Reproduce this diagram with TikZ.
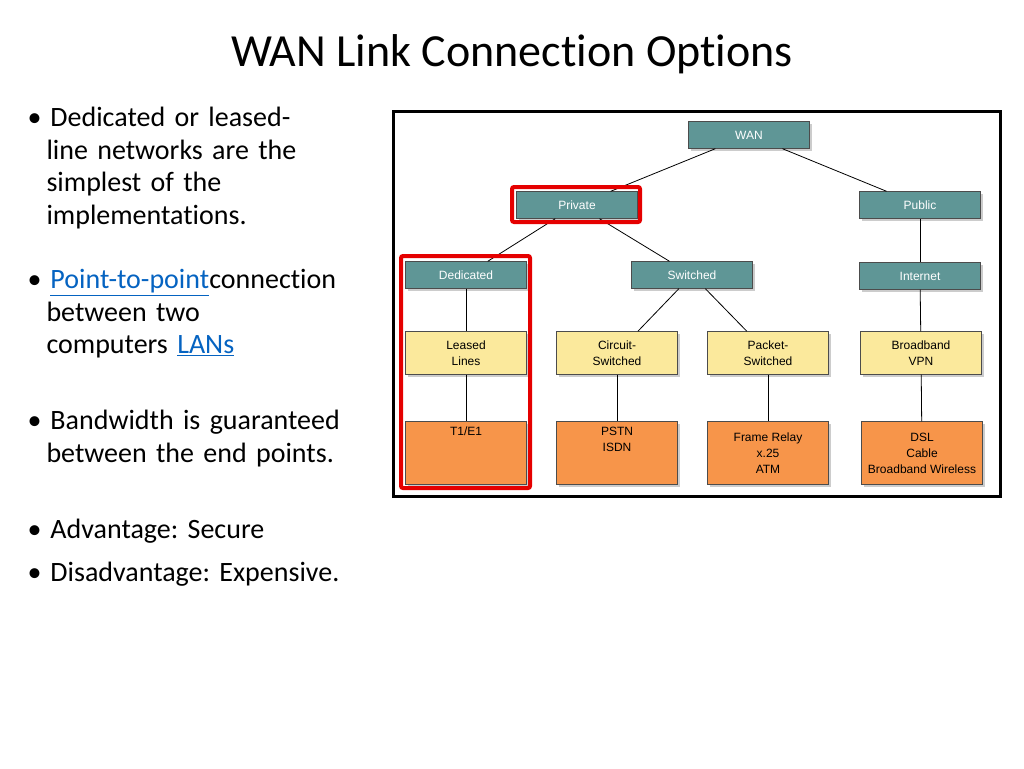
\documentclass[tikz,border=0pt]{standalone}
\usepackage{fontspec}
\setmainfont{Carlito}[Ligatures=NoCommon]
\newfontfamily\diag{Liberation Sans}
\usetikzlibrary{shadows}
\definecolor{teal1}{HTML}{5F9696}
\definecolor{yell1}{HTML}{FBE99C}
\definecolor{oran1}{HTML}{F7954A}
\definecolor{link1}{HTML}{0563C1}
\newcommand{\lnk}[1]{\textcolor{link1}{\underline{#1}}}
\begin{document}
\frenchspacing
\begin{tikzpicture}[x=1pt,y=-1pt,
    box/.style={draw=black!70,minimum width=121pt,inner sep=0pt,align=center,
      font=\diag\fontsize{12}{16}\selectfont,drop shadow={shadow xshift=2pt,shadow yshift=-2pt,opacity=.4}},
    top node/.style={box,fill=teal1,text=white,minimum height=27pt},
    mid node/.style={box,fill=yell1,minimum height=43pt},
    low node/.style={box,fill=oran1,minimum height=63pt},
    bullet/.style={anchor=north west,align=left,font=\fontsize{28}{32.5}\selectfont,text width=360pt}]
  \useasboundingbox (0,0) rectangle (1024,768);

  \node (title) at (512,54) {\fontsize{46}{52}\selectfont WAN Link Connection Options};

  \node[bullet] (b1) at (24,104) {\textbullet\hspace{9pt}Dedicated or leased-\\\hspace*{19pt}line networks are the\\\hspace*{19pt}simplest of the\\\hspace*{19pt}implementations.};
  \node[bullet] (b2) at (24,266) {\textbullet\hspace{9pt}\lnk{Point-to-point}connection\\\hspace*{19pt}between two\\\hspace*{19pt}computers \lnk{LANs}};
  \node[bullet] (b3) at (24,407) {\textbullet\hspace{9pt}Bandwidth is guaranteed\\\hspace*{19pt}between the end points.};
  \node[bullet] (b4) at (24,516) {\textbullet\hspace{9pt}Advantage: Secure};
  \node[bullet] (b5) at (24,559) {\textbullet\hspace{9pt}Disadvantage: Expensive.};

  \draw[line width=3pt] (393,111) rectangle (1000,496);

  \node[top node] (wan) at (749,135) {WAN};
  \node[top node] (private) at (577,205) {Private};
  \node[top node] (public) at (920,205) {Public};
  \node[top node] (dedicated) at (466,275) {Dedicated};
  \node[top node] (switched) at (692,275) {Switched};
  \node[top node] (internet) at (920,276) {Internet};
  \node[mid node] (leased) at (466,353) {Leased\\Lines};
  \node[mid node] (circuit) at (617,353) {Circuit-\\Switched};
  \node[mid node] (packet) at (768,353) {Packet-\\Switched};
  \node[mid node] (vpn) at (921,353) {Broadband\\VPN};
  \node[low node,text depth=44pt] (t1) at (466,453) {T1/E1};
  \node[low node,text depth=28pt] (pstn) at (617,453) {PSTN\\ISDN};
  \node[low node] (frame) at (768,453) {Frame Relay\\x.25\\ATM};
  \node[low node] (dsl) at (922,453) {DSL\\Cable\\Broadband Wireless};

  \draw[thick] (wan) -- (private);
  \draw[thick] (wan) -- (public);
  \draw[thick] (private) -- (dedicated);
  \draw[thick] (private) -- (switched);
  \draw[thick] (public) -- (internet);
  \draw[thick] (dedicated) -- (leased);
  \draw[thick] (switched) -- (circuit);
  \draw[thick] (switched) -- (packet);
  \draw[thick] (internet) -- (vpn);
  \draw[thick] (leased) -- (t1);
  \draw[thick] (circuit) -- (pstn);
  \draw[thick] (packet) -- (frame);
  \draw[thick] (vpn) -- (dsl);

  % highlight frames
  \draw[red!90!black,line width=4pt,rounded corners=2pt] (512,187) rectangle (640,222);
  \draw[red!90!black,line width=4pt,rounded corners=2pt] (401,256) rectangle (530,488);
\end{tikzpicture}
\end{document}
